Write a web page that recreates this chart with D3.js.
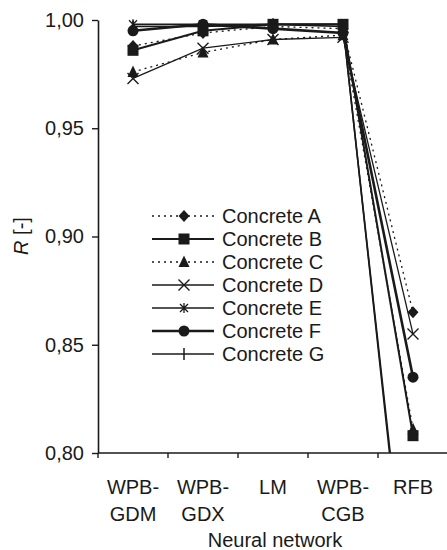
<!DOCTYPE html>
<html>
<head>
<meta charset="utf-8">
<script src="https://cdn.jsdelivr.net/npm/d3@7"></script>
<style>
  body { margin: 0; background: #fff; }
  text { font-family: "Liberation Sans", Arial, sans-serif; fill: #1a1a1a; }
</style>
</head>
<body>
<div id="chart"></div>
<script>
const WIDTH = 447;
const HEIGHT = 550;

const MARGIN = {
  TOP: 20,
  RIGHT: -1,
  BOTTOM: 97,
  LEFT: 98,
};

const categories = ["WPB-GDM", "WPB-GDX", "LM", "WPB-CGB", "RFB"];
const yTicks = [0.8, 0.85, 0.9, 0.95, 1.0];

const concreteA = [0.988, 0.994, 0.997, 0.996, 0.865];
const concreteB = [0.986, 0.995, 0.998, 0.998, 0.808];
const concreteC = [0.976, 0.985, 0.991, 0.993, 0.811];
const concreteD = [0.973, 0.987, 0.991, 0.992, 0.855];
const concreteE = [0.998, 0.998, 0.998, 0.998, 0.7];
const concreteF = [0.995, 0.998, 0.996, 0.994, 0.835];
const concreteG = [0.997, 0.997, 0.998, 0.997, 0.705];

const series = [
  { name: "Concrete A", values: concreteA, marker: "diamond", dash: "2,4", width: 1.3 },
  { name: "Concrete B", values: concreteB, marker: "square", dash: null, width: 2 },
  { name: "Concrete C", values: concreteC, marker: "triangle", dash: "2,4", width: 1.3 },
  { name: "Concrete D", values: concreteD, marker: "cross", dash: null, width: 1.3 },
  { name: "Concrete E", values: concreteE, marker: "asterisk", dash: null, width: 1.6 },
  { name: "Concrete F", values: concreteF, marker: "circle", dash: null, width: 2.6 },
  { name: "Concrete G", values: concreteG, marker: "plus", dash: null, width: 1.6 },
];

const innerW = WIDTH - MARGIN.LEFT - MARGIN.RIGHT;
const innerH = HEIGHT - MARGIN.TOP - MARGIN.BOTTOM;

const svg = d3
  .select("#chart")
  .append("svg")
  .attr("width", WIDTH)
  .attr("height", HEIGHT);

const g = svg
  .append("g")
  .attr("transform", `translate(${MARGIN.LEFT}, ${MARGIN.TOP})`);

const x = d3.scaleBand().domain(categories).range([0, innerW]).padding(0);
const y = d3.scaleLinear().domain([0.8, 1.0]).range([innerH, 0]);
const cx = (c) => x(c) + x.bandwidth() / 2;

g.append("clipPath")
  .attr("id", "plot-clip")
  .append("rect")
  .attr("x", 0)
  .attr("y", -10)
  .attr("width", innerW + 5)
  .attr("height", innerH + 10);

// markers
function drawMarker(sel, type, px, py) {
  const s = 5.5;
  if (type === "diamond") {
    sel.append("path")
      .attr("d", `M${px},${py - s - 0.5}L${px + s},${py}L${px},${py + s + 0.5}L${px - s},${py}Z`)
      .attr("fill", "#1a1a1a");
  } else if (type === "square") {
    sel.append("rect")
      .attr("x", px - s).attr("y", py - s)
      .attr("width", 2 * s).attr("height", 2 * s)
      .attr("fill", "#1a1a1a");
  } else if (type === "triangle") {
    sel.append("path")
      .attr("d", `M${px},${py - s - 1}L${px + s},${py + s - 0.5}L${px - s},${py + s - 0.5}Z`)
      .attr("fill", "#1a1a1a");
  } else if (type === "cross") {
    sel.append("path")
      .attr("d", `M${px - s},${py - s}L${px + s},${py + s}M${px - s},${py + s}L${px + s},${py - s}`)
      .attr("stroke", "#1a1a1a").attr("stroke-width", 1.4).attr("fill", "none");
  } else if (type === "asterisk") {
    sel.append("path")
      .attr("d", `M${px - 4},${py - 4}L${px + 4},${py + 4}M${px - 4},${py + 4}L${px + 4},${py - 4}M${px},${py - 5}L${px},${py + 5}`)
      .attr("stroke", "#1a1a1a").attr("stroke-width", 1.3).attr("fill", "none");
  } else if (type === "circle") {
    sel.append("circle")
      .attr("cx", px).attr("cy", py).attr("r", s)
      .attr("fill", "#1a1a1a");
  } else if (type === "plus") {
    sel.append("path")
      .attr("d", `M${px},${py - 6}L${px},${py + 6}`)
      .attr("stroke", "#1a1a1a").attr("stroke-width", 1.5).attr("fill", "none");
  }
}

const line = d3
  .line()
  .x((d, i) => cx(categories[i]))
  .y((d) => y(d));

const plot = g.append("g").attr("clip-path", "url(#plot-clip)");

series.forEach((s) => {
  plot.append("path")
    .datum(s.values)
    .attr("d", line)
    .attr("fill", "none")
    .attr("stroke", "#1a1a1a")
    .attr("stroke-width", s.width)
    .attr("stroke-dasharray", s.dash);
});

series.forEach((s) => {
  const mg = plot.append("g");
  s.values.forEach((v, i) => {
    drawMarker(mg, s.marker, cx(categories[i]), y(v));
  });
});

// y axis
g.append("g")
  .attr("class", "yAxis")
  .call(
    d3.axisLeft(y)
      .tickValues(yTicks)
      .tickSize(6)
      .tickSizeOuter(0)
      .tickPadding(8)
      .tickFormat((d) => d3.format(".2f")(d).replace(".", ","))
  )
  .call((ax) => {
    ax.select(".domain").attr("stroke", "#1a1a1a").attr("stroke-width", 1.6);
    ax.selectAll(".tick line").attr("stroke", "#1a1a1a").attr("stroke-width", 1.4);
    ax.selectAll(".tick text")
      .attr("font-size", "20px")
      .attr("font-family", "Liberation Sans, Arial, sans-serif")
      .attr("fill", "#1a1a1a");
  });

// x axis: tick marks on band boundaries
const xAxis = g.append("g").attr("class", "xAxis").attr("transform", `translate(0, ${innerH})`);
xAxis.append("line")
  .attr("x1", 0).attr("x2", innerW)
  .attr("stroke", "#1a1a1a").attr("stroke-width", 1.4);
xAxis.selectAll(".bt")
  .data(categories)
  .enter()
  .append("line")
  .attr("x1", (d) => x(d)).attr("x2", (d) => x(d))
  .attr("y1", 0).attr("y2", 5)
  .attr("stroke", "#1a1a1a").attr("stroke-width", 1.4);

categories.forEach((c) => {
  const parts = c.includes("-") ? [c.split("-")[0] + "-", c.split("-")[1]] : [c];
  parts.forEach((p, i) => {
    svg.append("text")
      .attr("text-anchor", "middle")
      .attr("font-size", "20px")
      .attr("x", MARGIN.LEFT + cx(c))
      .attr("y", 494 + i * 27)
      .text(p);
  });
});

svg.append("text")
  .attr("x", MARGIN.LEFT + innerW / 2 + 2)
  .attr("y", 547)
  .attr("text-anchor", "middle")
  .attr("font-size", "20px")
  .text("Neural network");

const yTitle = svg.append("text")
  .attr("transform", `translate(28, 236) rotate(-90)`)
  .attr("text-anchor", "middle")
  .attr("font-size", "20px");
yTitle.append("tspan").attr("font-style", "italic").text("R");
yTitle.append("tspan").text(" [-]");

// legend
const legend = svg.append("g").attr("transform", "translate(152, 216)");
series.forEach((s, i) => {
  const row = legend.append("g").attr("transform", `translate(0, ${i * 23})`);
  row.append("line")
    .attr("x1", 0).attr("x2", 62)
    .attr("stroke", "#1a1a1a")
    .attr("stroke-width", s.width)
    .attr("stroke-dasharray", s.dash);
  drawMarker(row, s.marker, 32, 0);
  row.append("text")
    .attr("x", 70)
    .attr("y", 7)
    .attr("font-size", "20px")
    .text(s.name);
});
</script>
</body>
</html>
